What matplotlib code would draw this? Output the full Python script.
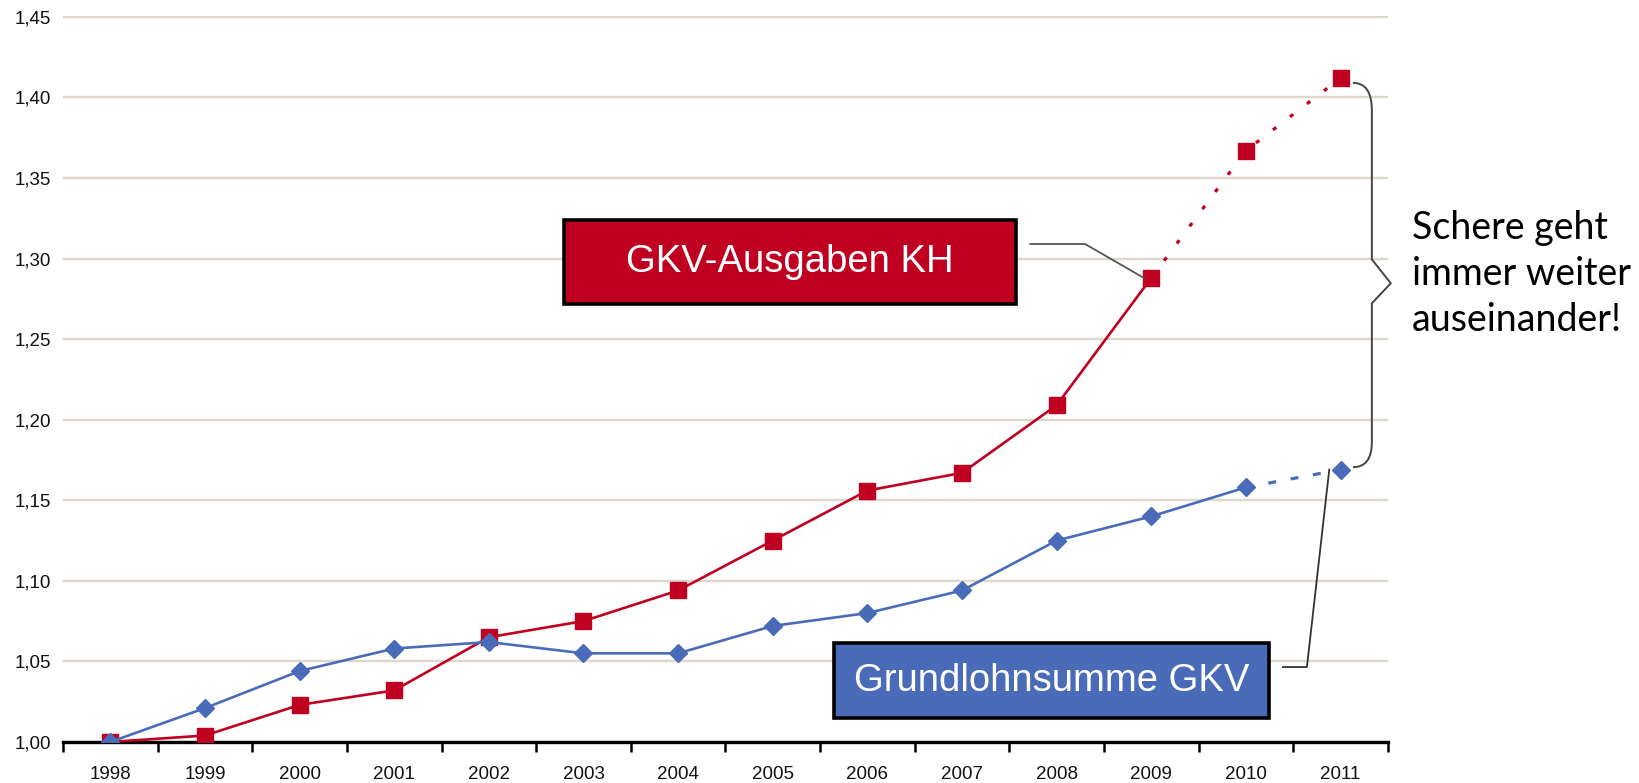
import matplotlib
matplotlib.use('Agg')
import matplotlib.pyplot as plt
from matplotlib.patches import Rectangle, PathPatch
from matplotlib.path import Path
import numpy as np

# index values (1998 = 1,00)
years = ['1998', '1999', '2000', '2001', '2002', '2003', '2004',
         '2005', '2006', '2007', '2008', '2009', '2010', '2011']
gkv_ausgaben_kh = [1.000, 1.004, 1.023, 1.032, 1.065, 1.075, 1.094,
                   1.125, 1.156, 1.167, 1.209, 1.288, 1.367, 1.412]
grundlohnsumme = [1.000, 1.021, 1.044, 1.058, 1.062, 1.055, 1.055,
                  1.072, 1.080, 1.094, 1.125, 1.140, 1.158, 1.169]
y_ticks = [1.00, 1.05, 1.10, 1.15, 1.20, 1.25, 1.30, 1.35, 1.40, 1.45]

red_last_solid = 11    # 2009 -> dotted afterwards (forecast)
blue_last_solid = 12   # 2010 -> dashed afterwards

RED = '#c00020'
BLUE = '#4a6cb8'
GRID = '#dcd8ce'

plt.rcParams['font.family'] = ['Liberation Sans', 'DejaVu Sans']

fig = plt.figure(figsize=(16.4, 7.83), dpi=100)
ax = fig.add_axes([0.0384, 0.0524, 0.8079, 0.9272])
x = np.arange(len(years))

# red series
r = red_last_solid
ax.plot(x[:r + 1], gkv_ausgaben_kh[:r + 1], color=RED, lw=1.9, zorder=3)
ax.plot(x[r:], gkv_ausgaben_kh[r:], color=RED, lw=2.3, ls=(0, (1.3, 5.4)), zorder=3)
ax.plot(x, gkv_ausgaben_kh, ls='none', marker='s', ms=11, color=RED, zorder=4)

# blue series
b = blue_last_solid
ax.plot(x[:b + 1], grundlohnsumme[:b + 1], color=BLUE, lw=1.9, zorder=5)
ax.plot(x[b:], grundlohnsumme[b:], color=BLUE, lw=2.3, ls=(0, (2.5, 4.6)), zorder=5)
ax.plot(x, grundlohnsumme, ls='none', marker='D', ms=9, color=BLUE, zorder=6)

ax.set_xlim(-0.5, len(years) - 0.5)
ax.set_ylim(1.0, 1.4505)

# axes styling
for side in ['left', 'right', 'top']:
    ax.spines[side].set_visible(False)
ax.spines['bottom'].set_color('black')
ax.spines['bottom'].set_linewidth(2.4)
ax.spines['bottom'].set_zorder(2)

ax.set_yticks(y_ticks)
ax.set_yticklabels([f'{v:.2f}'.replace('.', ',') for v in y_ticks])
ax.tick_params(axis='y', length=0, pad=8.5, labelsize=13.5, labelcolor='#111111')
ax.yaxis.grid(True, color=GRID, lw=1.7)
ax.set_axisbelow(True)

ax.set_xticks(np.arange(-0.5, len(years)), labels=[''] * (len(years) + 1))
ax.tick_params(axis='x', which='major', length=7, width=1.8, color='black', direction='out')
ax.set_xticks(x, labels=years, minor=True)
ax.tick_params(axis='x', which='minor', length=0, pad=17.5, labelsize=13.5, labelcolor='#111111')

# label boxes
ax.add_patch(Rectangle((4.79, 1.2715), 4.78, 0.0525, facecolor=RED,
                       edgecolor='black', lw=2.6, zorder=7))
ax.text(7.18, 1.298, 'GKV-Ausgaben KH', color='white', fontsize=27.5,
        ha='center', va='center', zorder=8)
ax.plot([9.72, 10.30, x[r] - 0.08], [1.309, 1.309, gkv_ausgaben_kh[r]],
        color='#555555', lw=1.3, zorder=6)

ax.add_patch(Rectangle((7.647, 1.0149), 4.596, 0.0465, facecolor=BLUE,
                       edgecolor='black', lw=2.6, zorder=7, clip_on=False))
ax.text(9.945, 1.0381, 'Grundlohnsumme GKV', color='white', fontsize=27.5,
        ha='center', va='center', zorder=8)
ax.plot([12.39, 12.644, x[-1] - 0.12], [1.0465, 1.0465, grundlohnsumme[-1]],
        color='#333333', lw=1.3, zorder=6)

# curly brace between the 2011 values
verts = [(13.13, 1.409), (13.33, 1.409), (13.33, 1.392),
         (13.33, 1.2995), (13.53, 1.2846), (13.33, 1.2722),
         (13.33, 1.186), (13.33, 1.1705), (13.13, 1.1705)]
codes = [Path.MOVETO, Path.CURVE3, Path.CURVE3,
         Path.LINETO, Path.LINETO, Path.LINETO,
         Path.LINETO, Path.CURVE3, Path.CURVE3]
ax.add_patch(PathPatch(Path(verts, codes), facecolor='none', edgecolor='#444444',
                       lw=1.4, clip_on=False, zorder=6))

fig.text(0.861, 0.650, 'Schere geht\nimmer weiter\nauseinander!', fontsize=27,
         family=['Lato', 'DejaVu Sans'], ha='left', va='center', linespacing=1.36,
         color='black')

fig.savefig('out.png', dpi=100)
